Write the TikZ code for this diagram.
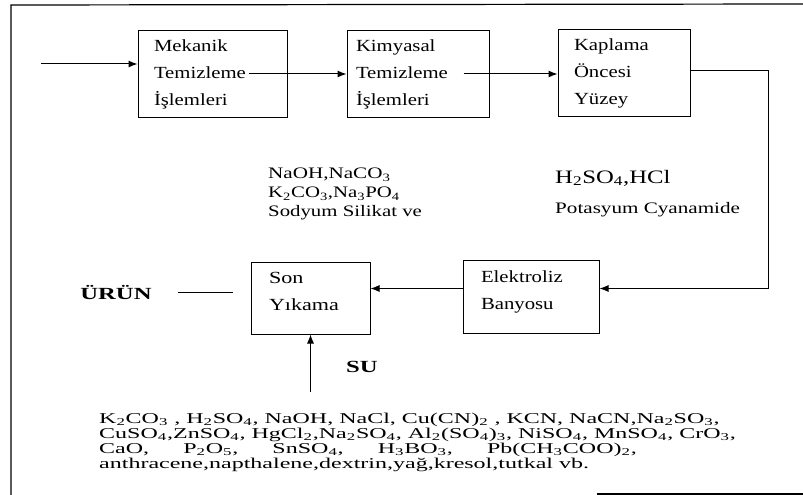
\documentclass[tikz,border=0pt]{standalone}
\usepackage{fontspec}
\setmainfont{Liberation Serif}
\usetikzlibrary{arrows.meta}
\newcommand{\altk}[1]{\textsubscript{#1}}
\newcommand{\genis}[2][1.22]{\scalebox{#1}[1]{#2}}
\begin{document}
\begin{tikzpicture}[x=1pt,y=-1pt,
    kutu/.style={draw,line width=1pt,align=left,inner ysep=0pt,
        minimum height=87pt,font=\fontsize{17}{27}\selectfont},
    ok/.style={-{Latex[length=9pt,width=7pt]},line width=1pt},
    yazi/.style={anchor=west,align=left,inner sep=0pt},
    satir/.style={anchor=base west,inner sep=0pt,font=\fontsize{15}{15}\selectfont}]
    \useasboundingbox (0,0) rectangle (803,495);
    % cerceve
    \draw[line width=1.2pt] (11,495) -- (11,5) -- (803,4);
    \draw[line width=1.2pt] (597,494) -- (803,494);
    % kutular
    \node[kutu,inner xsep=16pt,text width=117pt] (mek) at (212.5,74)
        {\genis{Mekanik}\\\genis{Temizleme}\\\genis{İşlemleri}};
    \node[kutu,inner xsep=9pt,text width=124pt] (kim) at (418,74)
        {\genis{Kimyasal}\\\genis{Temizleme}\\\genis{İşlemleri}};
    \node[kutu,inner xsep=16pt,text width=100pt] (kap) at (624,73)
        {\genis{Kaplama}\\\genis{Öncesi}\\\genis{Yüzey}};
    \node[kutu,inner xsep=18pt,text width=100pt,minimum height=73pt] (elk) at (531,296.5)
        {\genis{Elektroliz}\\\genis{Banyosu}\\[-14pt]\mbox{}};
    \node[kutu,inner xsep=18pt,text width=83pt,minimum height=72pt] (son) at (310.5,298)
        {\genis[1.3]{Son}\\\genis[1.3]{Yıkama}\\[-14pt]\mbox{}};
    % yazilar
    \node[yazi,font=\fontsize{16}{19}\selectfont] (alkali) at (268,194)
        {\genis[1.32]{NaOH,NaCO\altk{3}}\\\genis[1.3]{K\altk{2}CO\altk{3},Na\altk{3}PO\altk{4}}\\\genis[1.3]{Sodyum Silikat ve}};
    \node[yazi,font=\fontsize{19}{22}\selectfont] (asit) at (555,178) {\genis[1.3]{H\altk{2}SO\altk{4},HCl}};
    \node[yazi,font=\fontsize{16}{19}\selectfont] (siyanur) at (555,210) {\genis[1.32]{Potasyum Cyanamide}};
    \node[font=\bfseries\fontsize{17}{20}\selectfont,inner sep=0pt] (urun) at (116,293) {\genis[1.45]{ÜRÜN}};
    \node[font=\bfseries\fontsize{17}{20}\selectfont,inner sep=0pt] (su) at (362,367) {\genis[1.45]{SU}};
    \node[satir] (liste1) at (99,423)
        {\genis[1.6]{K\altk{2}CO\altk{3} , H\altk{2}SO\altk{4}, NaOH, NaCl, Cu(CN)\altk{2} , KCN, NaCN,Na\altk{2}SO\altk{3},}};
    \node[satir] (liste2) at (99,438)
        {\genis[1.6]{CuSO\altk{4},ZnSO\altk{4}, HgCl\altk{2},Na\altk{2}SO\altk{4}, Al\altk{2}(SO\altk{4})\altk{3}, NiSO\altk{4}, MnSO\altk{4}, CrO\altk{3},}};
    \node[satir] (liste3) at (99,453)
        {\genis[1.6]{\makebox[336pt][s]{CaO,\hfill P\altk{2}O\altk{5},\hfill SnSO\altk{4},\hfill H\altk{3}BO\altk{3},\hfill Pb(CH\altk{3}COO)\altk{2},}}};
    \node[satir] (liste4) at (99,468)
        {\genis[1.6]{anthracene,napthalene,dextrin,yağ,kresol,tutkal vb.}};
    % baglantilar
    \coordinate (giris) at (41,64);
    \coordinate (donus) at (768,71);
    \coordinate (cikis) at (233,292);
    \coordinate (sugiris) at (310.5,392);
    \draw[ok] (giris) -- (giris -| mek.west);
    \draw[ok] ([xshift=-39pt]mek.east) -- (kim.west);
    \draw[ok] ([xshift=-26pt]kim.east) -- (kim.east -| kap.west);
    \draw[ok] ([yshift=2pt]kap.east) -| (donus) |- ([yshift=8pt]elk.east);
    \draw[ok] ([yshift=8pt]elk.west) -- ([yshift=8pt]elk.west -| son.east);
    \draw[line width=1pt] (cikis) -- ++(-55,0);
    \draw[ok] (sugiris) -- (son.south);
\end{tikzpicture}
\end{document}
